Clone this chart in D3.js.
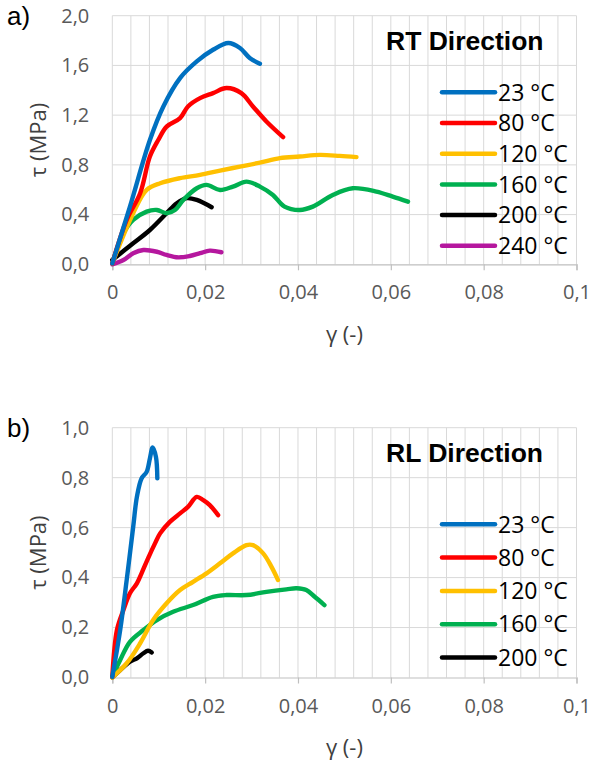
<!DOCTYPE html>
<html>
<head>
<meta charset="utf-8">
<script src="https://cdn.jsdelivr.net/npm/d3@7"></script>
<style>
  html, body { margin: 0; padding: 0; background: #fff; }
  svg { display: block; }
</style>
</head>
<body>
<svg id="chart" width="593" height="764"></svg>
<script>
// ---------- DATA ----------
const xTickValues = [0, 0.02, 0.04, 0.06, 0.08, 0.1];
const xTickLabels = ["0", "0,02", "0,04", "0,06", "0,08", "0,1"];
const rtYTicks = [0, 0.4, 0.8, 1.2, 1.6, 2.0];
const rtYTickLabels = ["0,0", "0,4", "0,8", "1,2", "1,6", "2,0"];
const rlYTicks = [0, 0.2, 0.4, 0.6, 0.8, 1.0];
const rlYTickLabels = ["0,0", "0,2", "0,4", "0,6", "0,8", "1,0"];

const rtNames = ["23 °C", "80 °C", "120 °C", "160 °C", "200 °C", "240 °C"];
const rlNames = ["23 °C", "80 °C", "120 °C", "160 °C", "200 °C"];
const seriesColors = ["#0070C0", "#FF0000", "#FFC000", "#00B050", "#000000", "#B5179E"];

// RT direction (x = gamma, y = tau MPa)
const rt23 = [[0,0.008],[0.0038,0.464],[0.0081,1.0],[0.011,1.27],[0.0146,1.498],[0.0182,1.632],[0.0217,1.726],[0.0250,1.78],[0.0275,1.74],[0.0296,1.66],[0.0318,1.613]];
const rt80 = [[0,0.008],[0.0031,0.357],[0.0060,0.572],[0.0081,0.867],[0.0099,1.0],[0.0117,1.108],[0.0146,1.176],[0.0163,1.27],[0.0189,1.337],[0.0217,1.377],[0.0246,1.418],[0.0278,1.377],[0.0303,1.27],[0.0332,1.149],[0.0368,1.023]];
const rt120 = [[0,0.008],[0.0045,0.411],[0.0074,0.598],[0.0103,0.652],[0.0146,0.693],[0.0189,0.719],[0.0232,0.754],[0.0275,0.786],[0.0318,0.818],[0.0361,0.854],[0.0404,0.867],[0.0447,0.88],[0.0490,0.872],[0.0526,0.862]];
const rt160 = [[0,0.008],[0.0024,0.25],[0.0045,0.357],[0.0074,0.424],[0.0096,0.437],[0.0117,0.411],[0.0135,0.437],[0.0153,0.518],[0.0182,0.612],[0.0203,0.639],[0.0232,0.598],[0.0260,0.625],[0.0289,0.665],[0.0318,0.625],[0.0346,0.558],[0.0371,0.464],[0.0404,0.437],[0.0432,0.464],[0.0475,0.558],[0.0518,0.612],[0.0569,0.585],[0.0604,0.545],[0.0637,0.504]];
const rt200 = [[0,0.035],[0.0045,0.169],[0.0081,0.276],[0.0117,0.411],[0.0139,0.491],[0.0160,0.532],[0.0182,0.518],[0.0214,0.459]];
const rt240 = [[0,0.0],[0.0024,0.035],[0.0045,0.089],[0.0067,0.115],[0.0096,0.101],[0.0117,0.075],[0.0142,0.056],[0.0167,0.067],[0.0189,0.089],[0.0210,0.11],[0.0235,0.097]];

// RL direction
const rl23 = [[0,0.003],[0.0017,0.19],[0.0031,0.39],[0.0045,0.603],[0.0053,0.723],[0.0063,0.797],[0.0074,0.823],[0.0081,0.877],[0.0087,0.921],[0.0094,0.883],[0.0097,0.797]];
const rl80 = [[0,0.003],[0.0010,0.19],[0.0024,0.27],[0.0038,0.337],[0.0053,0.377],[0.0063,0.417],[0.0077,0.477],[0.0092,0.537],[0.0103,0.577],[0.0124,0.623],[0.0146,0.657],[0.0163,0.683],[0.0182,0.723],[0.0196,0.71],[0.0210,0.69],[0.0228,0.65]];
const rl120 = [[0,0.0],[0.0031,0.057],[0.0060,0.137],[0.0088,0.23],[0.0117,0.297],[0.0146,0.35],[0.0174,0.383],[0.0203,0.417],[0.0232,0.457],[0.0260,0.497],[0.0289,0.53],[0.0303,0.53],[0.0325,0.497],[0.0343,0.443],[0.0357,0.39]];
const rl160 = [[0,0.003],[0.0017,0.07],[0.0038,0.143],[0.0067,0.19],[0.0096,0.23],[0.0131,0.263],[0.0174,0.29],[0.0217,0.323],[0.0246,0.33],[0.0289,0.33],[0.0332,0.343],[0.0375,0.353],[0.0397,0.357],[0.0418,0.35],[0.0436,0.323],[0.0457,0.29]];
const rl200 = [[0,0.0],[0.0017,0.03],[0.0038,0.063],[0.0053,0.077],[0.0067,0.097],[0.0077,0.107],[0.0085,0.1]];

const rtData = [rt23, rt80, rt120, rt160, rt200, rt240];
const rlData = [rl23, rl80, rl120, rl160, rl200];

// ---------- DRAW ----------
const svg = d3.select("#chart");
const TICK_FONT = "'Open Sans', sans-serif";

function drawPanel(cfg) {
  const x = d3.scaleLinear().domain([0, 0.1]).range([112.3, 576.5]);
  const y = d3.scaleLinear().domain([0, cfg.yMax]).range([cfg.bottom, cfg.top]);
  const g = svg.append("g");

  // vertical gridlines (minor every 0.004)
  const vGrid = d3.range(0, 26).map(i => i * 0.004);
  g.append("g").selectAll("line").data(vGrid).join("line")
    .attr("x1", d => x(d)).attr("x2", d => x(d))
    .attr("y1", y(cfg.yMax)).attr("y2", y(0))
    .attr("stroke", "#D9D9D9").attr("stroke-width", 1);
  // horizontal gridlines
  g.append("g").selectAll("line").data(cfg.yTicks.slice(1)).join("line")
    .attr("x1", x(0)).attr("x2", x(0.1))
    .attr("y1", d => y(d)).attr("y2", d => y(d))
    .attr("stroke", "#D9D9D9").attr("stroke-width", 1);

  // x axis
  const xAxis = d3.axisBottom(x).tickValues(xTickValues)
    .tickFormat((d, i) => xTickLabels[i]).tickSize(6).tickPadding(15);
  const xa = g.append("g").attr("transform", `translate(0,${y(0)})`).call(xAxis);
  xa.select(".domain").attr("stroke", "#BFBFBF").attr("stroke-width", 1.2);
  xa.selectAll(".tick line").attr("stroke", "#BFBFBF").attr("stroke-width", 1.2);
  xa.selectAll(".tick text").attr("font-family", TICK_FONT).attr("font-size", 20)
    .attr("fill", "#595959");

  // y axis (labels only)
  const yAxis = d3.axisLeft(y).tickValues(cfg.yTicks)
    .tickFormat((d, i) => cfg.yTickLabels[i]).tickSize(0).tickPadding(23);
  const ya = g.append("g").attr("transform", `translate(${x(0)},0)`).call(yAxis);
  ya.select(".domain").remove();
  ya.selectAll(".tick text").attr("font-family", TICK_FONT).attr("font-size", 20)
    .attr("fill", "#595959");

  // series
  const line = d3.line().x(d => x(d[0])).y(d => y(d[1])).curve(d3.curveCatmullRom.alpha(0.5));
  const order = cfg.data.map((d, i) => i).reverse();
  g.append("g").selectAll("path").data(order).join("path")
    .attr("d", i => line(cfg.data[i]))
    .attr("fill", "none")
    .attr("stroke", i => seriesColors[i])
    .attr("stroke-width", 4.4)
    .attr("stroke-linecap", "round")
    .attr("stroke-linejoin", "round");

  // title
  g.append("text").attr("x", 386).attr("y", cfg.titleY)
    .attr("font-family", "'Liberation Sans', Arial, sans-serif")
    .attr("font-weight", "bold").attr("font-size", 26.5).attr("fill", "#000")
    .text(cfg.title);

  // legend
  const lg = g.append("g").selectAll("g").data(cfg.names).join("g")
    .attr("transform", (d, i) => `translate(0,${cfg.legY0 + i * cfg.legStep})`);
  lg.append("line").attr("x1", 442).attr("x2", 495).attr("y1", 0).attr("y2", 0)
    .attr("stroke", (d, i) => seriesColors[i]).attr("stroke-width", 4.5)
    .attr("stroke-linecap", "round");
  lg.append("text").attr("x", 498).attr("y", 0).attr("dy", "0.36em")
    .attr("font-family", TICK_FONT).attr("font-size", 23).attr("fill", "#000")
    .text(d => d);

  // axis titles
  g.append("text").attr("x", x(0.05)).attr("y", cfg.bottom + 70)
    .attr("text-anchor", "middle").attr("dy", "0.35em")
    .attr("font-family", TICK_FONT).attr("font-size", 22).attr("fill", "#404040")
    .text("γ (-)");
  g.append("text")
    .attr("transform", `translate(38,${(cfg.top + cfg.bottom) / 2}) rotate(-90)`)
    .attr("text-anchor", "middle").attr("dy", "0.35em")
    .attr("font-family", TICK_FONT).attr("font-size", 22).attr("fill", "#404040")
    .text("τ (MPa)");

  // panel letter
  g.append("text").attr("x", 7).attr("y", cfg.letterY)
    .attr("font-family", "'Liberation Sans', Arial, sans-serif")
    .attr("font-size", 26).attr("fill", "#000")
    .text(cfg.letter);
}

drawPanel({
  top: 15.7, bottom: 264.3, yMax: 2.0,
  yTicks: rtYTicks, yTickLabels: rtYTickLabels,
  data: rtData, names: rtNames,
  title: "RT Direction", titleY: 50,
  legY0: 92.3, legStep: 30.7,
  letter: "a)", letterY: 25
});
drawPanel({
  top: 427.7, bottom: 677.5, yMax: 1.0,
  yTicks: rlYTicks, yTickLabels: rlYTickLabels,
  data: rlData, names: rlNames,
  title: "RL Direction", titleY: 462,
  legY0: 524.3, legStep: 33.3,
  letter: "b)", letterY: 437
});
</script>
</body>
</html>
